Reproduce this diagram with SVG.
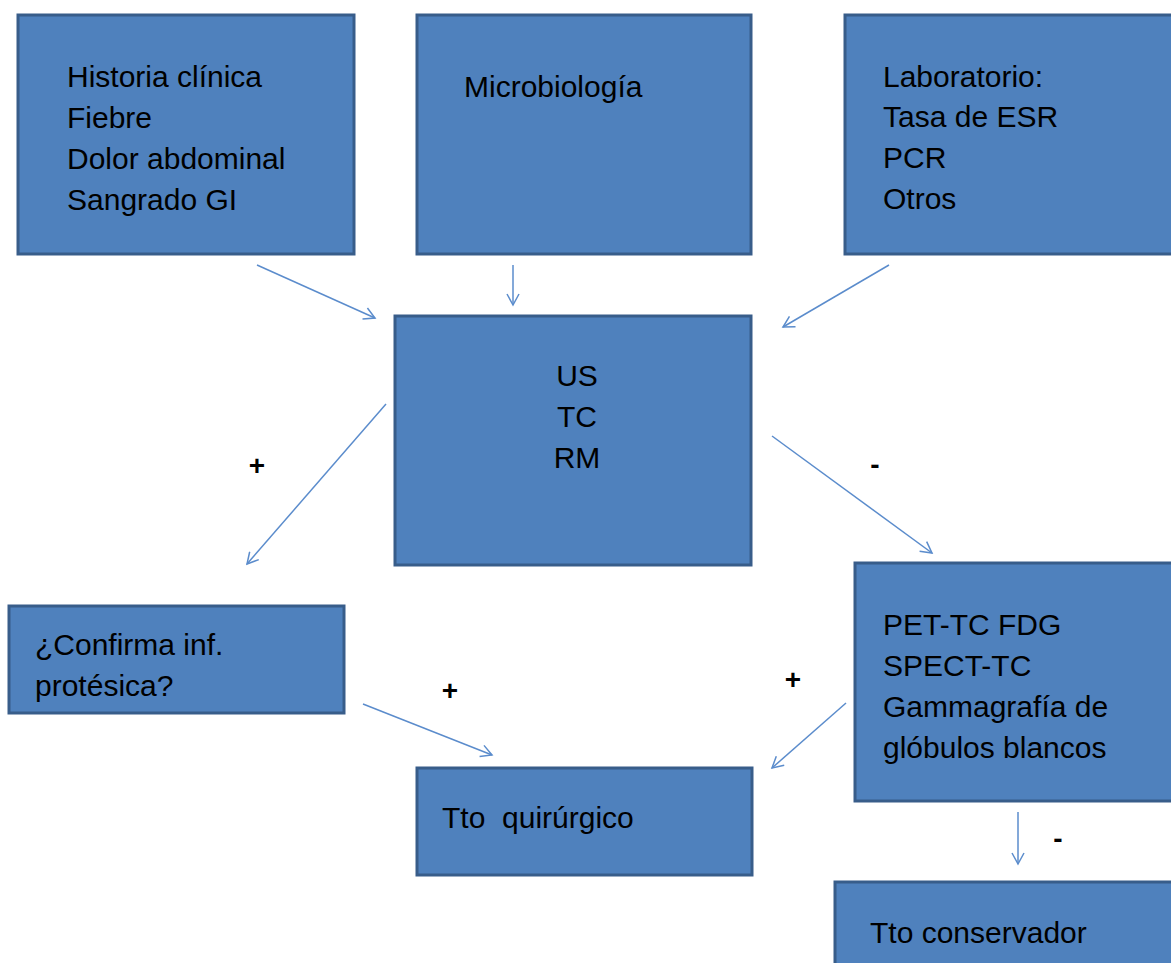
<svg xmlns="http://www.w3.org/2000/svg" width="1171" height="963" viewBox="0 0 1171 963">
<style>
.box{fill:#4f81bd;stroke:#385d8a;stroke-width:3}
.t{font-family:"Liberation Sans",Arial,sans-serif;font-size:30px;fill:#000}
.c{text-anchor:middle}
.lbl{font-family:"Liberation Sans",Arial,sans-serif;font-size:28px;font-weight:bold;fill:#000;text-anchor:middle}
.con{stroke:#5b8ccc;stroke-width:1.5;fill:none;marker-end:url(#ah)}
</style>
<defs>
<marker id="ah" viewBox="0 0 14 14" refX="12" refY="7" markerWidth="14" markerHeight="14" markerUnits="userSpaceOnUse" orient="auto">
<path d="M1,1 L12,7 L1,13" fill="none" stroke="#5b8ccc" stroke-width="1.5"/>
</marker>
</defs>
<rect width="1171" height="963" fill="#fff"/>
<g id="historia">
<rect class="box" x="18" y="15" width="336" height="239"/>
<text class="t" x="67" y="87">Historia clínica</text>
<text class="t" x="67" y="128">Fiebre</text>
<text class="t" x="67" y="169">Dolor abdominal</text>
<text class="t" x="67" y="210">Sangrado GI</text>
</g>
<g id="microbiologia">
<rect class="box" x="417" y="15" width="334" height="239"/>
<text class="t" x="464" y="97">Microbiología</text>
</g>
<g id="laboratorio">
<rect class="box" x="845" y="15" width="330" height="239"/>
<text class="t" x="883" y="87">Laboratorio:</text>
<text class="t" x="883" y="127">Tasa de ESR</text>
<text class="t" x="883" y="168">PCR</text>
<text class="t" x="883" y="209">Otros</text>
</g>
<g id="imagen">
<rect class="box" x="395" y="316" width="356" height="249"/>
<text class="t c" x="577" y="386">US</text>
<text class="t c" x="577" y="427">TC</text>
<text class="t c" x="577" y="468">RM</text>
</g>
<g id="confirma">
<rect class="box" x="9" y="606" width="335" height="107"/>
<text class="t" x="35" y="655">¿Confirma inf.</text>
<text class="t" x="35" y="696">protésica?</text>
</g>
<g id="pet">
<rect class="box" x="855" y="563" width="320" height="238"/>
<text class="t" x="883" y="635">PET-TC FDG</text>
<text class="t" x="883" y="676">SPECT-TC</text>
<text class="t" x="883" y="717">Gammagrafía de</text>
<text class="t" x="883" y="758">glóbulos blancos</text>
</g>
<g id="quirurgico">
<rect class="box" x="417" y="768" width="335" height="107"/>
<text class="t" x="442" y="828" xml:space="preserve">Tto  quirúrgico</text>
</g>
<g id="conservador">
<rect class="box" x="835" y="882" width="340" height="90"/>
<text class="t" x="870" y="943">Tto conservador</text>
</g>
<g id="connectors">
<line class="con" x1="257" y1="265" x2="375" y2="318"/>
<line class="con" x1="513" y1="265" x2="513" y2="305"/>
<line class="con" x1="889" y1="265" x2="783" y2="327"/>
<line class="con" x1="386" y1="404" x2="247" y2="564"/>
<line class="con" x1="772" y1="436" x2="932" y2="553"/>
<line class="con" x1="363" y1="704" x2="492" y2="755"/>
<line class="con" x1="846" y1="703" x2="772" y2="768"/>
<line class="con" x1="1018" y1="812" x2="1018" y2="864"/>
<text class="lbl" x="257" y="475">+</text>
<text class="lbl" x="875" y="474">-</text>
<text class="lbl" x="450" y="700">+</text>
<text class="lbl" x="793" y="689">+</text>
<text class="lbl" x="1058" y="848">-</text>
</g>
</svg>
